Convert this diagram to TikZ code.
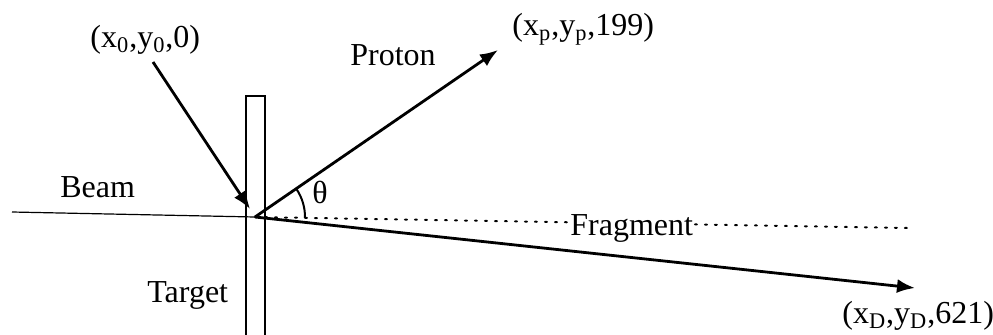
\documentclass[tikz,border=0pt]{standalone}
\usepackage{fontspec}
\setmainfont{Liberation Serif}
\usetikzlibrary{arrows.meta}
\begin{document}
\begin{tikzpicture}[x=0.5pt,y=0.5pt,
  lbl/.style={inner sep=0pt,anchor=base west,font=\fontsize{16}{19}\selectfont},
  ray/.style={line width=1.4pt,-{Latex[length=9pt,width=7pt]}},
  thin line/.style={line width=0.6pt}]
\useasboundingbox (0,0) rectangle (993,334);
% coordinates
\coordinate (IP) at (255,117);
\coordinate (beamstart) at (12,122);
\coordinate (src) at (153,272);
\coordinate (hit) at (250,125);
\coordinate (ptip) at (498,284);
\coordinate (ftip) at (915,46);
\coordinate (dend) at (908,106);
% target
\draw[thin line] (246,-5) -- (246,238) -- (265,238) -- (265,-5);
% beam
\draw[thin line] (beamstart) -- (IP);
% dotted reference line
\draw[line width=1pt,dash pattern=on 1pt off 4pt,line cap=round] (IP) -- (dend);
% rays
\draw[ray] (src) -- (hit);
\draw[ray] (IP) -- (ptip);
\draw[ray] (IP) -- (ftip);
% angle arc
\draw[line width=1pt] ([shift={(-1:50)}]IP) arc[start angle=-1,end angle=34.5,radius=25pt];
% labels
\node[lbl] (l0) at (90,287) {(x\textsubscript{0},y\textsubscript{0},0)};
\node[lbl] (beam) at (60,137) {Beam};
\node[lbl] (target) at (147,32) {Target};
\node[lbl] (proton) at (350,269) {Proton};
\node[lbl] (lp) at (512,299) {(x\textsubscript{p},y\textsubscript{p},199)};
\node[lbl,fill=white] (frag) at (570,99) {Fragment};
\node[lbl] (ld) at (842,11) {(x\textsubscript{D},y\textsubscript{D},621)};
\node[lbl] (theta) at (312,131) {θ};
\end{tikzpicture}
\end{document}
